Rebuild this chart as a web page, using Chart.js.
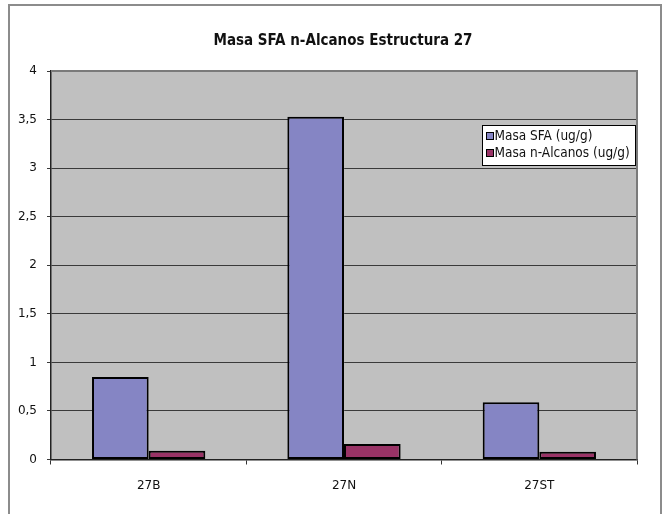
<!DOCTYPE html>
<html>
<head>
<meta charset="utf-8">
<script src="https://cdn.jsdelivr.net/npm/chart.js@4.4.1/dist/chart.umd.min.js"></script>
<style>
  html, body { margin: 0; padding: 0; background: #ffffff; }
  #wrap { width: 664px; height: 514px; position: relative; }
</style>
</head>
<body>
<div id="wrap"><canvas id="c" width="664" height="514"></canvas></div>
<script>
// Sample groups of structure 27
const categories = ['27B', '27N', '27ST'];
// Mass per sample (ug/g)
const masaSFA = [0.85, 3.53, 0.59];
const masaAlcanos = [0.09, 0.16, 0.08];
const seriesNames = ['Masa SFA (ug/g)', 'Masa n-Alcanos (ug/g)'];
// Value axis labels (comma decimals)
const yTickValues = [0, 0.5, 1, 1.5, 2, 2.5, 3, 3.5, 4];
const yTickLabels = ['0', '0,5', '1', '1,5', '2', '2,5', '3', '3,5', '4'];
const chartTitle = 'Masa SFA n-Alcanos Estructura 27';

const FONT = "'DejaVu Sans', sans-serif";
const FONT_C = "'DejaVu Sans Condensed', 'DejaVu Sans', sans-serif";

// Frame, plot background, title and in-plot legend
const decor = {
  id: 'decor',
  beforeDraw(chart) {
    const { ctx, chartArea: a } = chart;
    ctx.save();
    ctx.fillStyle = '#ffffff';
    ctx.fillRect(0, 0, chart.width, chart.height);
    ctx.strokeStyle = '#8c8c8c';
    ctx.lineWidth = 2;
    ctx.strokeRect(9, 5, 652, 512);
    ctx.fillStyle = '#c0c0c0';
    ctx.fillRect(a.left, a.top, a.right - a.left, a.bottom - a.top);
    ctx.fillStyle = '#111111';
    ctx.font = 'bold 15px ' + FONT_C;
    ctx.textAlign = 'center';
    ctx.textBaseline = 'middle';
    ctx.fillText(chartTitle, 343, 41);
    ctx.restore();
  },
  afterDatasetsDraw(chart) {
    const { ctx, chartArea: a } = chart;
    ctx.save();
    // top and right plot edges
    ctx.strokeStyle = '#7a7a7a';
    ctx.lineWidth = 2;
    ctx.beginPath();
    ctx.moveTo(a.left, a.top);
    ctx.lineTo(a.right, a.top);
    ctx.lineTo(a.right, a.bottom);
    ctx.stroke();
    // legend box
    const lx = 482.5, ly = 125.5, lw = 153, lh = 40;
    ctx.fillStyle = '#ffffff';
    ctx.fillRect(lx, ly, lw, lh);
    ctx.strokeStyle = '#000000';
    ctx.lineWidth = 1;
    ctx.strokeRect(lx, ly, lw, lh);
    ctx.font = '13.5px ' + FONT_C;
    ctx.textAlign = 'left';
    ctx.textBaseline = 'middle';
    chart.data.datasets.forEach((ds, i) => {
      const y = ly + 10.5 + i * 17;
      ctx.fillStyle = ds.backgroundColor;
      ctx.fillRect(lx + 4, y - 3.5, 7, 7);
      ctx.strokeStyle = '#000000';
      ctx.strokeRect(lx + 4, y - 3.5, 7, 7);
      ctx.fillStyle = '#111111';
      ctx.fillText(ds.label, lx + 12, y);
    });
    ctx.restore();
  }
};

new Chart(document.getElementById('c'), {
  type: 'bar',
  data: {
    labels: categories,
    datasets: [
      { label: seriesNames[0], data: masaSFA, backgroundColor: '#8585c4',
        borderColor: '#000000', borderWidth: 2, borderSkipped: false },
      { label: seriesNames[1], data: masaAlcanos, backgroundColor: '#993366',
        borderColor: '#000000', borderWidth: 2, borderSkipped: false }
    ]
  },
  options: {
    responsive: false,
    animation: false,
    devicePixelRatio: 1,
    layout: { padding: { top: 71, right: 27, bottom: 0, left: 0 } },
    datasets: { bar: { categoryPercentage: 0.58, barPercentage: 1 } },
    plugins: {
      legend: { display: false },
      title: { display: false },
      tooltip: { enabled: false }
    },
    scales: {
      x: {
        grid: { display: true, offset: true, drawOnChartArea: false, drawTicks: true,
                tickLength: 5, color: '#333333' },
        border: { display: true, color: '#222222', width: 1.5 },
        ticks: { color: '#111111', font: { family: FONT, size: 12 }, padding: 14 },
        afterFit(s) { s.height = 54.5; }
      },
      y: {
        min: 0, max: 4,
        afterBuildTicks(s) { s.ticks = yTickValues.map(v => ({ value: v })); },
        grid: { color: '#3a3a3a', lineWidth: 1, tickLength: 4, drawTicks: true },
        border: { display: true, color: '#222222', width: 1.5 },
        ticks: {
          color: '#111111', font: { family: FONT, size: 12 }, padding: 10,
          callback: (v) => yTickLabels[yTickValues.indexOf(v)]
        },
        afterFit(s) { s.width = 51; }
      }
    }
  },
  plugins: [decor]
});
</script>
</body>
</html>
